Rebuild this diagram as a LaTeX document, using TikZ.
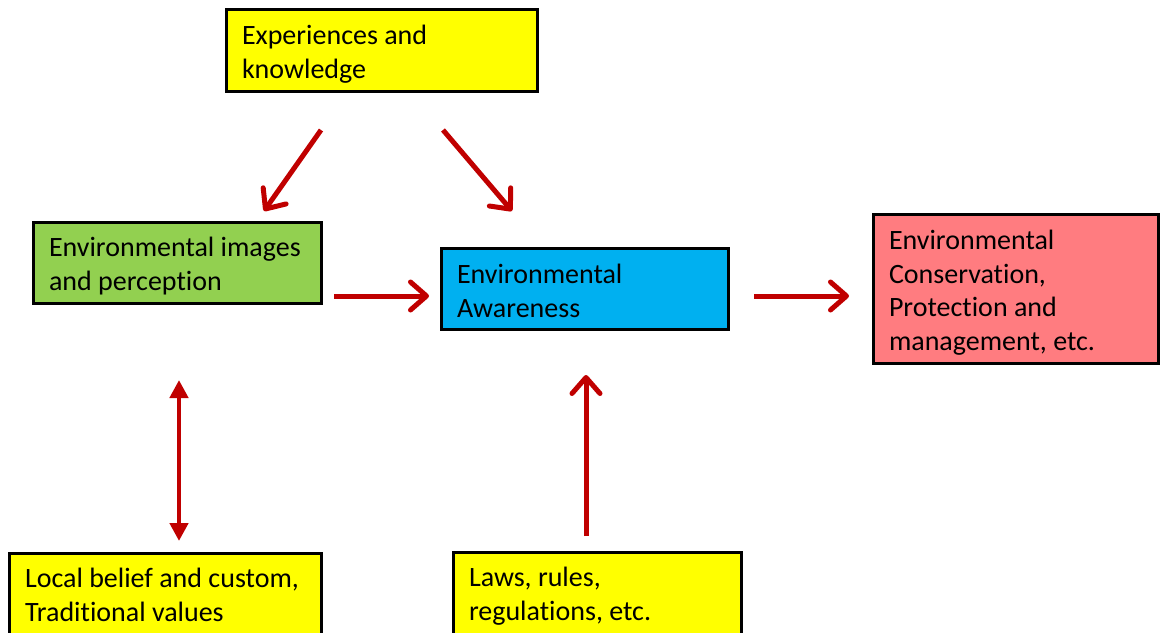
\documentclass[tikz,border=0pt]{standalone}
\usepackage{fontspec}
\setmainfont{Carlito}[Ligatures=NoCommon]
\usetikzlibrary{arrows.meta,calc}
\definecolor{boxyellow}{HTML}{FFFF00}
\definecolor{boxgreen}{HTML}{92D050}
\definecolor{boxblue}{HTML}{00B0F0}
\definecolor{boxred}{HTML}{FF7C80}
\definecolor{arrowred}{HTML}{C00000}
\newcommand{\boxlines}[2]{\begin{minipage}[t]{#1}#2\end{minipage}}
\tikzset{
  box/.style={draw=black, line width=3pt, anchor=north west, outer sep=0pt,
    inner xsep=15.5pt, inner ysep=0pt, text height=35pt,
    font=\fontsize{28}{33.5}\selectfont},
  flow/.style={draw=arrowred, line width=5pt,
    -{Straight Barb[length=16pt,width=28pt,round]}},
  both/.style={draw=arrowred, line width=4.5pt,
    {Triangle[length=18pt,width=18pt]}-{Triangle[length=18pt,width=18pt]}}
}
\begin{document}
\begin{tikzpicture}[x=1pt,y=-1pt]
  \useasboundingbox (0,0) rectangle (1161,632);
  \clip (0,0) rectangle (1161,632);

  % concept boxes
  \node[box, fill=boxyellow, text depth=47pt] (exp) at (226.5,9.5)
    {\boxlines{280pt}{Experiences and\\knowledge}};
  \node[box, fill=boxgreen, text height=34pt, text depth=47pt] (img) at (33.5,222.5)
    {\boxlines{257pt}{Environmental images\\and perception}};
  \node[box, fill=boxblue, text depth=46pt] (awa) at (441.5,248.5)
    {\boxlines{256pt}{Environmental\\Awareness}};
  \node[box, fill=boxred, text depth=114pt] (con) at (873.5,214.5)
    {\boxlines{254pt}{Environmental\\Conservation,\\Protection and\\management, etc.}};
  \node[box, fill=boxyellow, text height=34pt, text depth=112pt] (bel) at (9.5,553.5)
    {\boxlines{281pt}{Local belief and custom,\\Traditional values}};
  \node[box, fill=boxyellow, text height=34pt, text depth=108pt] (law) at (453.5,552.5)
    {\boxlines{257pt}{Laws, rules,\\regulations, etc.}};

  % arrow end points in the gaps between the boxes
  \coordinate (expL) at (321,130);
  \coordinate (imgT) at (264,211);
  \coordinate (expR) at (443,130);
  \coordinate (awaT) at (512,211);
  \coordinate (imgR) at (334,296);
  \coordinate (awaL) at (429,296);
  \coordinate (awaR) at (754,296);
  \coordinate (conL) at (849,296);
  \coordinate (imgB) at (179,380);
  \coordinate (belT) at (179,541);
  \coordinate (lawT) at (586,536);
  \coordinate (awaB) at (586,375);

  % influences
  \draw[flow] (expL) -- (imgT);
  \draw[flow] (expR) -- (awaT);
  \draw[flow] (imgR) -- (awaL);
  \draw[flow] (awaR) -- (conL);
  \draw[flow] (lawT) -- (awaB);
  \draw[both] (imgB) -- (belT);
\end{tikzpicture}
\end{document}
